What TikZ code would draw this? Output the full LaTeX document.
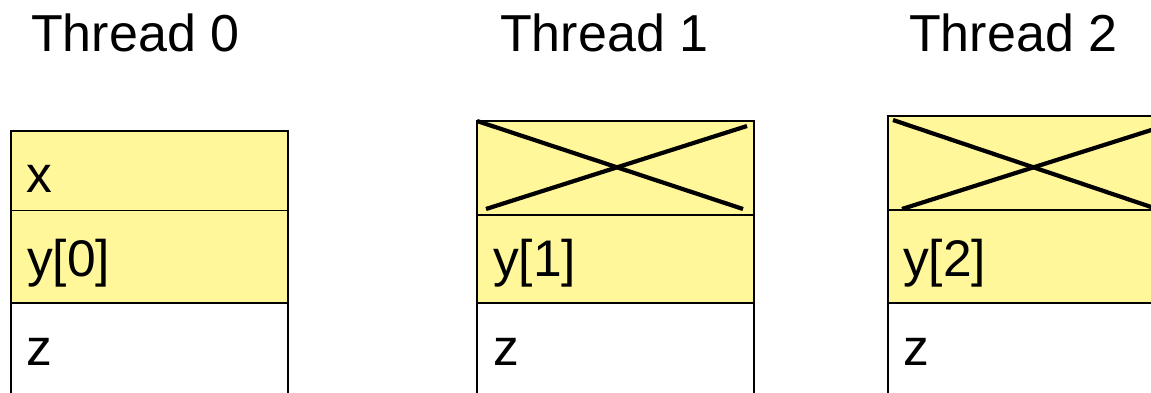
\documentclass[tikz,border=0pt]{standalone}
\usepackage{fontspec}
\setmainfont{Liberation Sans}
\definecolor{memyellow}{RGB}{255,247,153}
\tikzset{
  cell/.style={draw=black, line width=1.9pt, anchor=north west, inner sep=0pt, outer sep=0pt, minimum width=277pt},
  shared/.style={cell, fill=memyellow},
  private/.style={cell, fill=white},
  celltext/.style={anchor=base west, inner sep=0pt, font=\fontsize{51.5}{60}\selectfont},
  title/.style={anchor=base west, inner sep=0pt, font=\fontsize{52}{60}\selectfont},
  crossout/.style={line width=4.2pt, black}
}
\begin{document}
\begin{tikzpicture}[x=1pt,y=-1pt]
\useasboundingbox (0,0) rectangle (1151,393);
\clip (0,0) rectangle (1151,393);
% titles
\node[title] (t0) at (31,51.7) {Thread 0};
\node[title] (t1) at (500,51.7) {Thread 1};
\node[title] (t2) at (909,51.7) {Thread 2};
% thread 0
\node[shared, minimum height=79.5pt] (a0) at (11,131) {};
\node[shared, minimum height=92.2pt] (a1) at (11,210.5) {};
\node[private, minimum height=120pt] (a2) at (11,302.7) {};
\node[celltext] (a0t) at (26,192.7) {x};
\node[celltext] (a1t) at (27,276.2) {y[0]};
\node[celltext] (a2t) at (26,365) {z};
% thread 1
\node[shared, minimum height=94.3pt] (b0) at (477,121) {};
\node[shared, minimum height=87.4pt] (b1) at (477,215.3) {};
\node[private, minimum height=120pt] (b2) at (477,302.7) {};
\node[celltext] (b1t) at (493,276.2) {y[1]};
\node[celltext] (b2t) at (493,365) {z};
\draw[crossout] (477,121) -- (743,209);
\draw[crossout] (486,209) -- (747,126);
% thread 2
\node[shared, minimum height=94.6pt] (c0) at (888,115.7) {};
\node[shared, minimum height=92.4pt] (c1) at (888,210.3) {};
\node[private, minimum height=120pt] (c2) at (888,302.7) {};
\node[celltext] (c1t) at (903,276.2) {y[2]};
\node[celltext] (c2t) at (903,365) {z};
\draw[crossout] (893,120) -- (1160,210);
\draw[crossout] (902,209) -- (1164,126);
\end{tikzpicture}
\end{document}
